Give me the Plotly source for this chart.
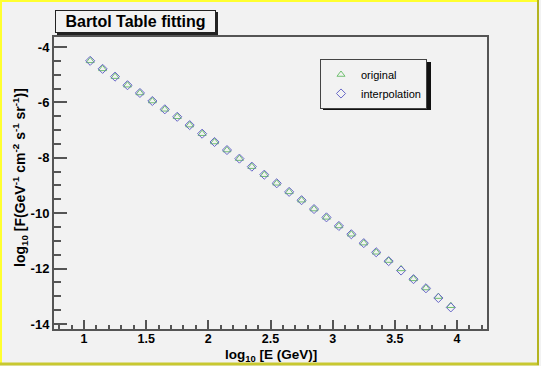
import plotly.graph_objects as go

# ---- data ----
log_e = [1.05, 1.15, 1.25, 1.35, 1.45, 1.55, 1.65, 1.75, 1.85, 1.95,
         2.05, 2.15, 2.25, 2.35, 2.45, 2.55, 2.65, 2.75, 2.85, 2.95,
         3.05, 3.15, 3.25, 3.35, 3.45, 3.55, 3.65, 3.75, 3.85, 3.95]
interp_flux = [-4.50, -4.79, -5.07, -5.38, -5.66, -5.95, -6.25, -6.52, -6.82, -7.13,
               -7.43, -7.72, -8.03, -8.32, -8.61, -8.92, -9.23, -9.53, -9.85, -10.15,
               -10.46, -10.76, -11.08, -11.41, -11.73, -12.07, -12.38, -12.71, -13.06, -13.40]
orig_flux = [-4.50, -4.79, -5.07, -5.38, -5.66, -5.95, -6.25, -6.52, -6.82, -7.13,
             -7.43, -7.72, -8.03, -8.32, -8.61, -8.92, -9.23, -9.53, -9.85, -10.15,
             -10.46, -10.76, -11.08, -11.41, -11.71, -12.01, -12.37, -12.70, -13.01, -13.34]
x_ticks = [1, 1.5, 2, 2.5, 3, 3.5, 4]
y_ticks = [-4, -6, -8, -10, -12, -14]

W, H = 541, 366
L, R, T, B = 54, 487, 37, 329
PW, PH = R - L, B - T

def px(x):
    return (x - L) / PW

def py(y):
    return (B - y) / PH

BG = "#f2f2f2"
AX = "#555555"
FONT = "Liberation Sans, Arial, sans-serif"

fig = go.Figure()
fig.add_trace(go.Scatter(
    x=log_e, y=orig_flux, mode="markers", name="original",
    marker=dict(symbol="triangle-up-open", size=7, color="#70c070",
                line=dict(width=1, color="#70c070"))))
fig.add_trace(go.Scatter(
    x=log_e, y=interp_flux, mode="markers", name="interpolation",
    marker=dict(symbol="diamond-open", size=7, color="#6868c8",
                line=dict(width=1, color="#6868c8"))))

shapes = []
# outer yellow frame
shapes.append(dict(type="line", xref="paper", yref="paper", x0=px(1), x1=px(1), y0=py(0), y1=py(365),
                   line=dict(color="#ffff30", width=2)))
shapes.append(dict(type="line", xref="paper", yref="paper", x0=px(0), x1=px(539), y0=py(1), y1=py(1),
                   line=dict(color="#ffff30", width=2)))
shapes.append(dict(type="line", xref="paper", yref="paper", x0=px(0), x1=px(539), y0=py(364), y1=py(364),
                   line=dict(color="#c8c830", width=3)))
shapes.append(dict(type="line", xref="paper", yref="paper", x0=px(538), x1=px(538), y0=py(0), y1=py(365),
                   line=dict(color="#b4b420", width=2)))
# title box shadow
shapes.append(dict(type="rect", xref="paper", yref="paper", x0=px(57), x1=px(218), y0=py(35), y1=py(12),
                   fillcolor="#222222", line=dict(width=0), layer="above"))
# legend shadow
shapes.append(dict(type="rect", xref="paper", yref="paper", x0=px(323), x1=px(431), y0=py(110), y1=py(62),
                   fillcolor="#111111", line=dict(width=0), layer="above"))

annotations = [
    dict(text="<b>Bartol Table fitting</b>", xref="paper", yref="paper",
         x=px(135.5), y=py(21.5), xanchor="center", yanchor="middle", showarrow=False,
         font=dict(family=FONT, size=16, color="#000000"),
         width=155, height=17, borderpad=2, borderwidth=1, bordercolor="#222222", bgcolor=BG),
    dict(text="<b>log<sub>10</sub> [E (GeV)]</b>", xref="paper", yref="paper",
         x=px(271), y=py(355), xanchor="center", yanchor="middle", showarrow=False,
         font=dict(family=FONT, size=13.5, color="#000000")),
    dict(text="<b>log<sub>10</sub> [F(GeV<sup>-1</sup> cm<sup>-2</sup> s<sup>-1</sup> sr<sup>-1</sup>)]</b>",
         xref="paper", yref="paper", x=px(20), y=py(178), xanchor="center", yanchor="middle",
         textangle=-90, showarrow=False, font=dict(family=FONT, size=14, color="#000000")),
]

fig.update_layout(
    width=W, height=H,
    margin=dict(l=L, r=W - R, t=T, b=H - B),
    paper_bgcolor=BG, plot_bgcolor=BG,
    font=dict(family=FONT, color="#000000"),
    showlegend=True,
    legend=dict(x=px(320), y=py(59), xanchor="left", yanchor="top",
                bgcolor=BG, bordercolor="#444444", borderwidth=1,
                font=dict(family=FONT, size=11, color="#000000"),
                tracegroupgap=0, itemwidth=30),
    shapes=shapes,
    annotations=annotations,
)
fig.update_xaxes(range=[0.759, 4.241], tickvals=x_ticks, ticktext=[f"<b>{v:g}</b>" for v in x_ticks],
                 ticks="inside", ticklen=9, tickwidth=1.5, tickcolor=AX, ticklabelstandoff=-3,
                 minor=dict(dtick=0.1, tick0=0, ticks="inside", ticklen=4.5, tickcolor=AX, tickwidth=1.5),
                 showline=True, linecolor=AX, linewidth=2, mirror=True, showgrid=False, zeroline=False,
                 tickfont=dict(family=FONT, size=12.5))
fig.update_yaxes(range=[-14.18, -3.64], tickvals=y_ticks, ticktext=[f"<b>{v:g}</b>" for v in y_ticks],
                 ticks="inside", ticklen=13, tickwidth=1.5, tickcolor=AX,
                 minor=dict(dtick=0.5, tick0=0, ticks="inside", ticklen=6.5, tickcolor=AX, tickwidth=1.5),
                 showline=True, linecolor=AX, linewidth=2, mirror=True, showgrid=False, zeroline=False,
                 tickfont=dict(family=FONT, size=13))

fig.write_html("out.html", config={"displayModeBar": False},
               post_script="document.body.style.margin='0';document.body.style.overflow='hidden';")
